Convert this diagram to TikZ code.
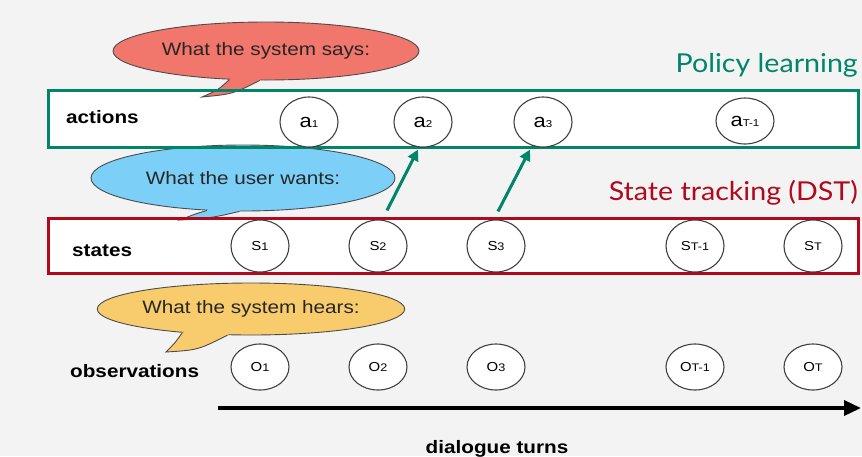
\documentclass[tikz,border=0pt]{standalone}
\usepackage{fontspec}
\setmainfont{Liberation Sans}[FakeStretch=1.15]
\newfontfamily\headfont{Lato}[FakeStretch=1.1]
\usetikzlibrary{arrows.meta, positioning, shapes.geometric, calc}

\definecolor{policygreen}{RGB}{0,133,104}
\definecolor{trackred}{RGB}{178,8,28}
\definecolor{saysfill}{RGB}{241,118,108}
\definecolor{wantsfill}{RGB}{124,208,248}
\definecolor{hearsfill}{RGB}{248,204,108}
\definecolor{bggray}{RGB}{243,243,243}

% symbol with a small index, e.g. a1, ST-1
\newcommand{\bigsym}[2]{{\fontsize{19}{19}\selectfont #1}{\fontsize{10}{10}\selectfont #2}}
\newcommand{\capsym}[2]{{\fontsize{13}{13}\selectfont #1}{\fontsize{11}{11}\selectfont #2}}

\begin{document}
\begin{tikzpicture}[
        x=1pt, y=-1pt,
        state/.style={
            draw=black!75,
            ellipse,
            fill=white,
            minimum width=58pt,
            minimum height=52pt,
            inner sep=0pt,
            line width=1.1pt
        },
        bubble/.style={
            ellipse,
            draw=black!70,
            line width=0.9pt,
            inner sep=0pt,
            text=black!85,
            font=\fontsize{18}{20}\selectfont
        },
        tail/.style={draw=black!70, line width=0.9pt},
        rowlabel/.style={anchor=base west, inner sep=0pt, font=\bfseries\fontsize{18}{20}\selectfont},
        header/.style={anchor=base east, inner sep=0pt, font=\headfont\fontsize{26}{28}\selectfont},
        band/.style={line width=3pt},
        link/.style={draw=policygreen, line width=3pt, -{Triangle[length=11pt,width=11pt]}},
        axis/.style={line width=3.5pt, -{Triangle[length=17pt,width=15pt]}}
    ]
    \useasboundingbox (0,0) rectangle (862,456);
    \fill[bggray] (0,0) rectangle (862,456);

    % white inside the two bands
    \fill[white] (48,90) rectangle (858,147);
    \fill[white] (48,218) rectangle (858,273);

    % speech bubbles
    \node[bubble, fill=saysfill, minimum width=306pt, minimum height=58pt] (says) at (266,51) {What the system says:};
    \coordinate (saystip) at (202,97);
    \fill[saysfill] (says.218) .. controls (218,90) .. (saystip) .. controls (233,94) .. (says.258)
        -- ($(says.258)!0.15!(says.center)$) -- ($(says.218)!0.15!(says.center)$) -- cycle;
    \draw[tail] (says.218) .. controls (218,90) .. (saystip) .. controls (233,94) .. (says.258);

    \node[bubble, fill=wantsfill, minimum width=304pt, minimum height=66pt] (wants) at (243,178) {What the user wants:};
    \coordinate (wantstip) at (180,220);
    \fill[wantsfill] (wants.222) .. controls (195,214) .. (wantstip) .. controls (211,218) .. (wants.264)
        -- ($(wants.264)!0.15!(wants.center)$) -- ($(wants.222)!0.15!(wants.center)$) -- cycle;
    \draw[tail] (wants.222) .. controls (195,214) .. (wantstip) .. controls (211,218) .. (wants.264);

    \node[bubble, fill=hearsfill, minimum width=268pt, minimum height=52pt] (hears) at (251,309) {What the system hears:};
    \coordinate (hearstip) at (166,352);
    \fill[hearsfill] (hears.199) .. controls (175,343) .. (hearstip) .. controls (198,350) .. (hears.228)
        -- ($(hears.228)!0.15!(hears.center)$) -- ($(hears.199)!0.15!(hears.center)$) -- cycle;
    \draw[tail] (hears.199) .. controls (175,343) .. (hearstip) .. controls (198,350) .. (hears.228);

    % bands
    \draw[band, policygreen] (48,90) rectangle (858,147);
    \draw[band, trackred] (48,218) rectangle (858,273);

    \node[header, text=policygreen] (policy) at (858,72) {Policy learning};
    \node[header, text=trackred] (tracking) at (858,200) {State tracking (DST)};

    % row labels
    \node[rowlabel] (actions) at (66,123) {actions};
    \node[rowlabel] (states) at (72,256) {states};
    \node[rowlabel] (observations) at (70,377) {observations};

    % actions
    \node[state, minimum height=50pt] (a1) at (309,122) {\bigsym{a}{1}};
    \node[state, minimum height=50pt] (a2) at (423,122) {\bigsym{a}{2}};
    \node[state, minimum height=50pt] (a3) at (543,122) {\bigsym{a}{3}};
    \node[state, minimum height=46pt] (aTm) at (745,121) {\bigsym{a}{T-1}};

    % states and observations
    \foreach \x/\n/\i in {260/1/1, 378/2/2, 496/3/3, 695/Tm/T-1, 813/T/T} {
        \node[state] (s\n) at (\x,246) {\capsym{S}{\i}};
        \node[state, minimum height=46pt] (o\n) at (\x,367) {\capsym{O}{\i}};
    }

    % state -> action
    \draw[link] ([xshift=9pt,yshift=9pt]s2.north) -- ([xshift=-5pt,yshift=-2pt]a2.south);
    \draw[link] ([xshift=2pt,yshift=8pt]s3.north) -- ([xshift=-13pt,yshift=-2pt]a3.south);

    % time axis
    \coordinate (tstart) at (218,408);
    \coordinate (tend) at (861,408);
    \draw[axis] (tstart) -- (tend);
    \node[anchor=base, font=\bfseries\fontsize{18}{20}\selectfont] (turns) at (497,453) {dialogue turns};
\end{tikzpicture}
\end{document}
